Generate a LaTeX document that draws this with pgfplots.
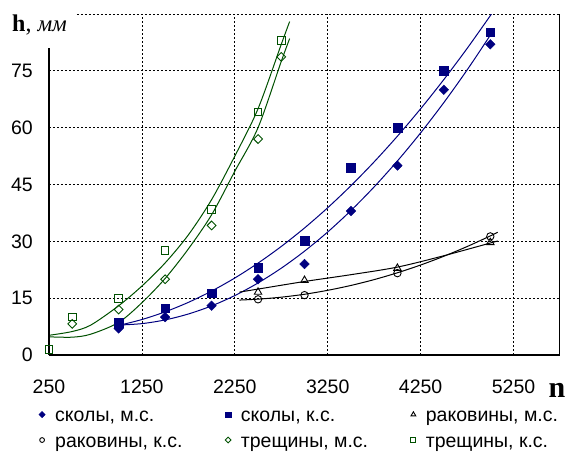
\documentclass[border=0pt]{standalone}
\usepackage{fontspec}
\setmainfont{Liberation Sans}
\newfontfamily\seriffont{Liberation Serif}
\usepackage{pgfplots}
\pgfplotsset{compat=1.18}
\definecolor{navyc}{RGB}{0,0,128}
\definecolor{dgreen}{RGB}{0,80,0}
\begin{document}
\begin{tikzpicture}
\useasboundingbox (-49pt,-100pt) rectangle (525pt,355pt);
\begin{axis}[
 scale only axis, width=511pt, height=341pt,
 xmin=250, xmax=5750, ymin=0, ymax=90,
 xtick={250,1250,...,5250}, ytick={0,15,...,75},
 extra y ticks={90}, extra y tick labels={}, extra y tick style={grid=major},
 grid=major, grid style={black, line width=0.8pt, dash pattern=on 2pt off 2pt},
 axis x line*=bottom, axis y line*=left,
 axis line style={line width=2.2pt, -},
 major tick length=0pt,
 /pgf/number format/assume math mode=true,
 /pgf/number format/1000 sep={},
 ticklabel style={font=\fontsize{19.5}{23}\selectfont, inner sep=0pt},
 xticklabel style={anchor=north, yshift=-25pt},
 yticklabel style={anchor=east, xshift=-16pt},
 legend columns=3,
 legend style={at={(-0.0196,-0.1484)}, anchor=north west, draw=none, fill=none,
   inner sep=0pt, outer sep=0pt, font=\fontsize{19.5}{23.4}\selectfont,
   row sep=7.6pt, nodes={inner sep=0pt},
   /tikz/every odd column/.append style={column sep=10pt}},
 legend image code/.code={\draw[#1, every mark/.append style={scale=0.65}] plot coordinates {(0pt,0pt)};},
 legend cell align=left,
]
% trend lines
\addplot[dgreen, line width=1pt, smooth, forget plot] coordinates {
 (250,5.2) (500,6.2) (700,7.9) (1000,13.0) (1250,18.2) (1500,24.3) (1750,31.7)
 (2000,41.0) (2250,52.5) (2500,65.0) (2750,82.0) (2840,88.0)};
\addplot[dgreen, line width=1pt, smooth, forget plot] coordinates {
 (250,4.8) (500,4.7) (700,5.5) (1000,8.6) (1250,13.8) (1500,20.2) (1750,28.0)
 (2000,37.0) (2250,48.5) (2500,60.0) (2750,77.5) (2840,83.5)};
\addplot[navyc, line width=1pt, smooth, forget plot] coordinates {
 (1000,7.80) (1250,9.36) (1500,11.39) (1750,13.89) (2000,16.87) (2250,20.32)
 (2500,24.25) (2750,28.65) (3000,33.52) (3250,38.87) (3500,44.69) (3750,50.98)
 (4000,57.75) (4250,64.99) (4500,72.71) (4750,80.90) (5000,89.56) (5050,91.35)};
\addplot[navyc, line width=1pt, smooth, forget plot] coordinates {
 (1000,7.90) (1250,8.28) (1500,9.26) (1750,10.82) (2000,12.96) (2250,15.69)
 (2500,19.01) (2750,22.91) (3000,27.40) (3250,32.47) (3500,38.13) (3750,44.38)
 (4000,51.21) (4250,58.63) (4500,66.63) (4750,75.22) (5000,84.40) (5045,86.1)};
\addplot[black, line width=1pt, smooth, forget plot] coordinates {
 (2300,16.6) (2500,17.4) (3000,19.4) (3500,21.2) (4000,23.2) (4500,26.2) (5080,30.1)};
\addplot[black, line width=1pt, smooth, forget plot] coordinates {
 (2300,14.5) (2500,14.74) (2750,15.26) (3000,16.03) (3250,17.07) (3500,18.36)
 (3750,19.90) (4000,21.70) (4250,23.75) (4500,26.06) (4750,28.62) (5000,31.43) (5080,32.4)};
% markers
\addplot[only marks, navyc, mark=square*, mark size=3.4pt, mark options={rotate=45, fill=navyc, draw=navyc}] coordinates {
 (1000,7) (1500,10) (2000,13) (2500,20) (3000,24) (3500,38) (4000,50) (4500,70) (5000,82)};
\addlegendentry{\makebox[170pt][l]{\strut сколы, м.с.}}
\addplot[only marks, navyc, mark=square*, mark size=4.3pt, mark options={fill=navyc, draw=navyc}] coordinates {
 (1000,8.5) (1500,12.4) (2000,16.3) (2500,23) (3000,30.2) (3500,49.5) (4000,60) (4500,75) (5000,85.2)};
\addlegendentry{\makebox[170pt][l]{\strut сколы, к.с.}}
\addplot[only marks, black, mark=triangle, mark size=4.3pt, mark options={line width=0.9pt}] coordinates {
 (2500,16.6) (3000,19.7) (4000,22.9) (5000,29.7)};
\addlegendentry{\strut раковины, м.с.}
\addplot[only marks, black, mark=o, mark size=3.7pt, mark options={line width=0.9pt}] coordinates {
 (2500,14.7) (3000,15.8) (4000,21.6) (5000,31.3)};
\addlegendentry{\makebox[170pt][l]{\strut раковины, к.с.}}
\addplot[only marks, dgreen, mark=square, mark size=3.1pt, mark options={rotate=45, line width=0.9pt}] coordinates {
 (500,8.2) (1000,12) (1500,20) (2000,34.2) (2500,57) (2750,78.7)};
\addlegendentry{\makebox[170pt][l]{\strut трещины, м.с.}}
\addplot[only marks, dgreen, mark=square, mark size=3.8pt, mark options={line width=0.9pt}] coordinates {
 (250,1.5) (500,10) (1000,15) (1500,27.6) (2000,38.4) (2500,64.2) (2750,83)};
\addlegendentry{\strut трещины, к.с.}
\draw[black, line width=1.2pt] (rel axis cs:1,0) -- (rel axis cs:1,1);
\draw[black, line width=2.2pt] (rel axis cs:0,1) -- (rel axis cs:0,0) -- (rel axis cs:1,0);
\end{axis}
\fill[white] (-49pt,307pt) rectangle (26pt,355pt);
\node[anchor=base west, inner sep=0pt, font=\seriffont\fontsize{24}{29}\selectfont] at (-37pt,323pt) {\textbf{h}, {\fontsize{23}{28}\selectfont\itshape мм}};
\node[anchor=base, inner sep=0pt, font=\seriffont\bfseries\fontsize{30}{36}\selectfont] at (508pt,-43pt) {n};
\end{tikzpicture}
\end{document}
